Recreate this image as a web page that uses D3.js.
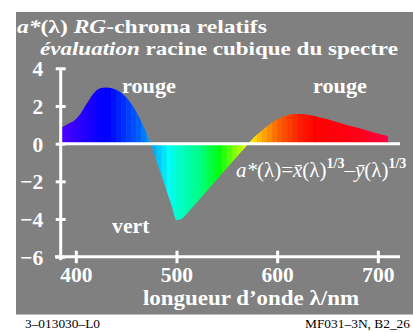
<!DOCTYPE html>
<html><head><meta charset="utf-8">
<script src="https://cdn.jsdelivr.net/npm/d3@7"></script>
<style>
html,body{margin:0;padding:0;background:#fff;}
svg{display:block;}
text{font-family:"Liberation Serif","Times New Roman",serif;}
</style></head>
<body>
<svg id="c" width="413" height="332"></svg>
<script>
// wavelengths (nm) and a*(λ) values
const wavelengths = [385,390,395,400,405,410,415,420,425,430,435,440,445,450,455,460,465,470,475,480,485,490,495,500,505,510,515,520,525,530,535,540,545,550,555,560,565,570,575,580,585,590,595,600,605,610,615,620,625,630,635,640,645,650,655,660,665,670,675,680,685,690,695,700,705,710];
const aValues   = [0.84,0.98,1.12,1.30,1.62,2.05,2.48,2.80,2.95,2.98,2.95,2.86,2.70,2.47,2.12,1.70,1.18,0.58,-0.08,-0.88,-1.67,-2.47,-3.26,-4.06,-4.00,-3.74,-3.43,-3.13,-2.82,-2.52,-2.21,-1.91,-1.60,-1.30,-0.99,-0.69,-0.39,-0.08,0.22,0.48,0.70,0.92,1.12,1.28,1.42,1.51,1.57,1.58,1.57,1.54,1.49,1.43,1.36,1.29,1.22,1.14,1.06,0.98,0.91,0.84,0.76,0.69,0.61,0.54,0.47,0.40];
const colorStopsNm  = [385,425,430,460,475,490,500,520,540,570,580,600,620,635,680,705];
const colorStopsHex = ["#4a00ff","#0000ff","#0000ff","#0060ff","#00b0ff","#00fff8","#00ffc8","#00ff88","#00ff10","#ffff00","#ffb800","#ff5c00","#ff1c00","#ff0000","#ff0018","#ff0040"];
const xTicks = [400,500,600,700];
const yTicks = [-6,-4,-2,0,2,4];
const yTickLabels = ["\u22126","\u22124","\u22122","0","2","4"];

const svg = d3.select("#c");
svg.append("rect").attr("x",16).attr("y",12).attr("width",397).attr("height",302.5).attr("fill","#808080");

const x = d3.scaleLinear().domain([385,722]).range([60.7,400]);
const y = d3.scaleLinear().domain([-6,4]).range([256.7,68.3]);
const color = d3.scaleLinear().domain(colorStopsNm).range(colorStopsHex).interpolate(d3.interpolateRgb);

const data = wavelengths.map((w,i)=>({w, v:aValues[i]}));
const area = d3.area().x(d=>x(d.w)).y0(y(0)).y1(d=>y(d.v)).curve(d3.curveMonotoneX);
svg.append("clipPath").attr("id","clipA").append("path").attr("d",area(data));

const strips = data.slice(0,-1);
svg.append("g").attr("clip-path","url(#clipA)")
  .selectAll("rect").data(strips).join("rect")
  .attr("x",d=>x(d.w)).attr("width",d=>x(d.w+5)-x(d.w)+0.4)
  .attr("y",y(4)).attr("height",y(-6)-y(4))
  .attr("fill",d=>color(d.w));

// zero line
svg.append("line").attr("x1",x(385)).attr("x2",x(722)).attr("y1",y(0)).attr("y2",y(0))
  .attr("stroke","#fff").attr("stroke-width",3);

// y axis
const yAxis = svg.append("g").attr("transform",`translate(${x(385)},0)`)
  .call(d3.axisLeft(y).tickValues(yTicks).tickSize(0).tickPadding(0).tickFormat((d,i)=>yTickLabels[i]));
yAxis.select(".domain").remove();
yAxis.append("line").attr("x1",0).attr("x2",0).attr("y1",y(4)).attr("y2",y(-6)+3.5).attr("stroke","#fff").attr("stroke-width",3);
yAxis.selectAll(".tick line").attr("x1",-5).attr("x2",5).attr("stroke","#fff").attr("stroke-width",3);
yAxis.selectAll(".tick text").attr("x",-17.5).attr("dy","0.35em").attr("fill","#fff")
  .style("font-size","21.5px").style("font-weight","bold").style("font-family","'Liberation Serif',serif");

// x axis
const xAxis = svg.append("g").attr("transform",`translate(0,${y(-6)})`)
  .call(d3.axisBottom(x).tickValues(xTicks).tickSize(0).tickPadding(0));
xAxis.select(".domain").remove();
xAxis.append("line").attr("x1",55).attr("x2",x(722)).attr("y1",0).attr("y2",0).attr("stroke","#fff").attr("stroke-width",3);
xAxis.selectAll(".tick line").attr("y1",-6).attr("y2",6.5).attr("stroke","#fff").attr("stroke-width",3);
xAxis.selectAll(".tick text").attr("y",25.8).attr("dy",0).attr("fill","#fff")
  .style("font-size","21.5px").style("font-weight","bold").style("font-family","'Liberation Serif',serif");

// titles: natural-size text stretched horizontally to the reference width
function stretched(tx, ty, targetW, size, parts){
  const g = svg.append("g");
  const t = g.append("text").attr("x",0).attr("y",0).attr("fill","#fff").style("font-size",size+"px").style("font-weight","bold");
  parts.forEach(p=>{ const s=t.append("tspan").text(p[0]); if(p[1]) s.style("font-style","italic"); });
  const w = t.node().getComputedTextLength();
  g.attr("transform",`translate(${tx},${ty}) scale(${targetW/w},1)`);
}
stretched(17,33,250,19,[["a*",1],["(\u03bb) ",0],["RG",1],["-chroma relatifs",0]]);
stretched(40,54.5,358,19,[["\u00e9valuation",1],[" racine cubique du spectre",0]]);

svg.append("text").attr("x",143).attr("y",305).attr("fill","#fff")
  .attr("textLength",216).attr("lengthAdjust","spacingAndGlyphs")
  .style("font-size","21.5px").style("font-weight","bold").text("longueur d\u2019onde \u03bb/nm");

// annotations
const ann = (tx,ty,s,w)=>svg.append("text").attr("x",tx).attr("y",ty).attr("fill","#fff")
  .attr("textLength",w).attr("lengthAdjust","spacingAndGlyphs")
  .style("font-size","21.5px").style("font-weight","bold").text(s);
ann(122,93,"rouge",54);
ann(313,93,"rouge",54);
ann(112,232.5,"vert",37.5);

const f = svg.append("text").attr("x",236).attr("y",176.5).attr("fill","#fff").style("font-size","21px");
f.append("tspan").style("font-style","italic").text("a*");
f.append("tspan").text("(\u03bb)=");
f.append("tspan").style("font-style","italic").text("x\u0304");
f.append("tspan").text("(\u03bb)");
f.append("tspan").attr("dy",-9).style("font-size","14px").style("font-weight","bold").text("1/3");
f.append("tspan").attr("dy",9).text("\u2013");
f.append("tspan").style("font-style","italic").text("y\u0304");
f.append("tspan").text("(\u03bb)");
f.append("tspan").attr("dy",-9).style("font-size","14px").style("font-weight","bold").text("1/3");

// footer
svg.append("text").attr("x",25).attr("y",328).attr("fill","#000").style("font-size","12px")
  .attr("textLength",75).attr("lengthAdjust","spacingAndGlyphs").text("3\u2013013030\u2013L0");
svg.append("text").attr("x",305).attr("y",328).attr("fill","#000").style("font-size","12px")
  .attr("textLength",105).attr("lengthAdjust","spacingAndGlyphs").text("MF031\u20133N, B2_26");
</script>
</body></html>
